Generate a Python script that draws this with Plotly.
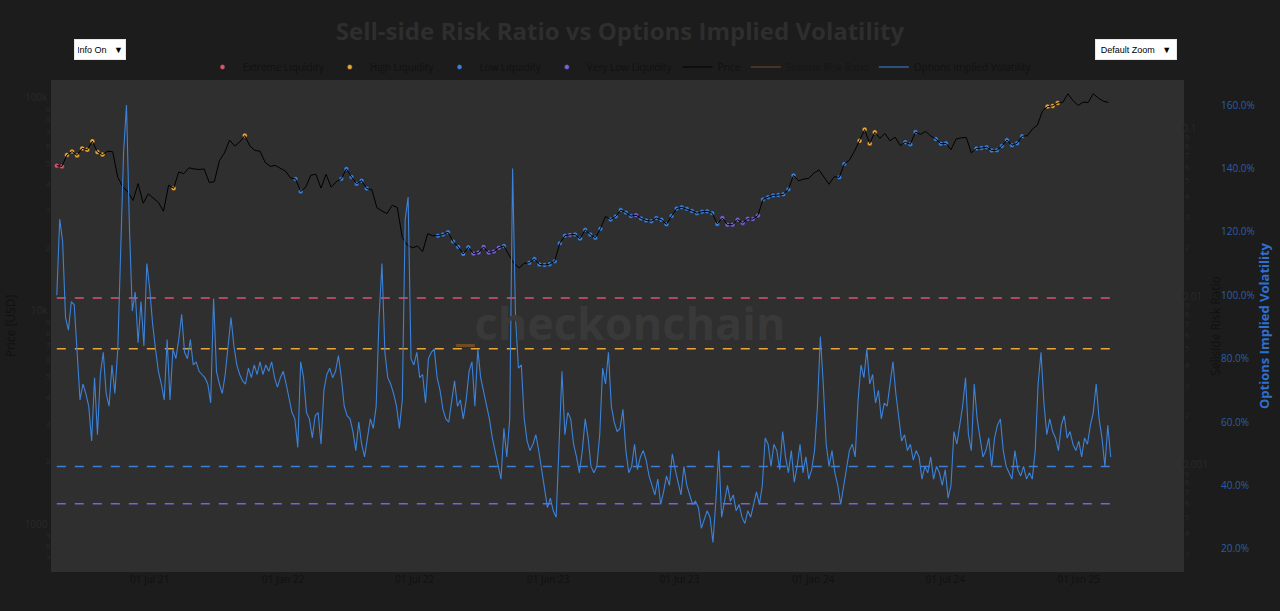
import pandas as pd
import plotly.graph_objects as go

# ---------------- data ----------------
title_text = "Sell-side Risk Ratio vs Options Implied Volatility"

price_start = "2021-02-23"   # weekly closes
price_usd = [
    # 2021
    48800, 48400, 54800, 56800, 54500, 58800, 57900, 63500, 56500, 55000,
    57000, 56700, 43000, 38800, 36700, 33500, 40200, 32500, 36000, 34200,
    32800, 29800, 39500, 38200, 45600, 44700, 47700, 47100, 46800, 47100,
    40700, 41000, 51500, 56000, 64300, 60300, 63000, 67500, 60300, 57500,
    57000, 50600, 48400, 48900, 47600,
    # 2022
    46000, 42700, 42300, 36900, 38700, 44000, 44500, 38300, 44400, 38700,
    41000, 42400, 47100, 43200, 40100, 41500, 38100, 37700, 31000, 29900,
    29100, 31800, 31100, 22500, 20700, 20100, 20500, 19300, 23400, 22900,
    22900, 23200, 23800, 21500, 20300, 18800, 20200, 18900, 19100, 20300,
    19100, 19300, 20100, 20500, 18500, 16900, 16200, 17000, 17100, 17800,
    16800, 16700,
    # 2023
    16850, 17400, 21100, 22900, 23100, 23200, 22200, 24400, 23200, 22400,
    24700, 28200, 27300, 28200, 30200, 29400, 28300, 28600, 27600, 27000,
    26800, 27700, 27200, 25900, 28300, 30700, 31100, 30600, 29900, 29200,
    29700, 29800, 29200, 26000, 27700, 25800, 25800, 27200, 26300, 27500,
    27400, 28500, 33900, 34700, 35400, 35500, 35800, 37800, 43900, 41400,
    42200, 42500,
    # 2024
    45000, 46600, 43100, 39900, 43300, 43000, 49700, 51800, 57000, 63800,
    72000, 62000, 70000, 65600, 69100, 63800, 66400, 60600, 62900, 61500,
    70100, 68400, 70600, 67300, 65100, 61800, 62100, 58000, 65000, 65900,
    66200, 56000, 58700, 59000, 59500, 57500, 57600, 60300, 64300, 60800,
    62100, 67000, 67400, 72300, 75600, 88000, 92300, 93000, 96000, 96600,
    106000, 98700, 93400,
    # 2025
    96900, 96500, 106100, 101300, 97800, 96600,
]

srr_values = [   # weekly sell-side risk ratio (same dates as price)
    0.013, 0.011,
    0.007, 0.0065, 0.006, 0.0072, 0.0068, 0.0055, 0.0062, 0.0058,
    0.0042, 0.0038, 0.0045, 0.0035, 0.0031, 0.0028, 0.0033, 0.0027, 0.0024, 0.0026, 0.0022, 0.0025, 0.0032,
    0.0052,
    0.0041, 0.0036, 0.0039, 0.0034, 0.003, 0.0028, 0.0033, 0.0037, 0.0042, 0.0039, 0.0044, 0.0046, 0.0048,
    0.0053,
    0.0041, 0.0035, 0.0029, 0.0024, 0.0021, 0.0019, 0.0017, 0.0015, 0.0013,
    0.0009, 0.00085,
    0.0012, 0.0016, 0.0019, 0.0014, 0.0013, 0.0012, 0.0011,
    0.00095, 0.0009, 0.00088, 0.00092, 0.00085, 0.0009,
    0.0012, 0.0014, 0.0017, 0.0022, 0.0025, 0.0021, 0.0018, 0.0016, 0.0015, 0.0013, 0.0012, 0.0011, 0.00105,
    0.00092, 0.00085, 0.0008, 0.00075, 0.0007, 0.00068, 0.00065,
    0.00058, 0.00055, 0.00052, 0.00056, 0.00054, 0.00057, 0.00062,
    0.0014, 0.0018, 0.0016, 0.0011,
    0.0009, 0.00082, 0.00078, 0.0008, 0.00085, 0.00092,
    0.00088, 0.00075, 0.00058, 0.0007, 0.00082, 0.00086, 0.00079, 0.00084, 0.00095,
    0.0011,
    0.00092, 0.00085, 0.0008, 0.00072, 0.00066, 0.00059, 0.00063, 0.00071, 0.00078, 0.00084, 0.00089, 0.00093, 0.00087,
    0.00082, 0.00076, 0.0007, 0.00068, 0.00064, 0.00067, 0.00072, 0.00069, 0.00062,
    0.00055, 0.00051, 0.00048, 0.00046, 0.0005, 0.00053, 0.00049, 0.00057,
    0.00072, 0.00081, 0.00086, 0.0009, 0.00094, 0.00088, 0.00097,
    0.0013, 0.0016, 0.0019, 0.0022, 0.0018, 0.0015, 0.0014, 0.0012,
    0.00095, 0.0009,
    0.0021, 0.0034,
    0.0056, 0.0064, 0.0058, 0.0052,
    0.0041, 0.0032, 0.0026, 0.0019, 0.0014,
    0.00092, 0.00088, 0.00096,
    0.0012, 0.0013, 0.0011,
    0.00094, 0.00087, 0.00091,
    0.0013, 0.0017, 0.0015, 0.0012, 0.0011,
    0.00093, 0.00086, 0.0008, 0.00074, 0.00071, 0.00078, 0.00083, 0.00089, 0.00092, 0.00097,
    0.0014, 0.0021, 0.0032, 0.0045,
    0.0055, 0.0061, 0.0052,
    0.0042, 0.0038, 0.0033, 0.0029, 0.0031, 0.0035, 0.0028, 0.0024, 0.0021, 0.0019,
]

iv_start = "2021-02-23"   # every 4 days, percent
iv_pct = [
    100, 124, 117, 93, 89, 98, 97, 83, 67, 72,
    69, 65, 54, 74, 56, 75, 82, 69, 65, 78,
    69, 83, 112, 145, 160, 122, 95, 101, 85, 98,
    84, 110, 102, 91, 83, 76, 72, 67, 86, 67,
    83, 80, 86, 94, 82, 80, 86, 78, 79, 76,
    75, 74, 72, 66, 99, 76, 72, 69, 75, 84,
    93, 84, 78, 75, 73, 72, 77, 74, 78, 75,
    79, 75, 78, 76, 79, 74, 71,
    74, 76, 72, 67, 63, 61, 52, 79, 74, 63,
    61, 55, 62, 63, 53, 70, 75, 77, 74, 76,
    81, 74, 65, 62, 61, 57, 51, 60, 53, 49,
    55, 61, 58, 65, 93, 110, 82, 74, 72, 69,
    65, 58, 67, 124, 131, 80, 78, 82, 74, 75,
    66, 80, 82, 83, 74, 70, 64, 61, 60, 67,
    73, 65, 67, 61, 67, 76, 79, 65, 83, 74,
    70, 65, 61, 55, 51, 46, 42, 58, 49, 61,
    140, 93, 77, 78, 61, 54, 51, 53, 56, 51,
    45, 38, 33, 36, 32, 30, 51, 76, 56, 63,
    61, 53, 49, 44, 51, 61, 55, 46, 44, 46,
    56, 77, 72, 82, 65, 60, 57, 58, 64, 51,
    44, 46, 53, 45, 49, 51, 48, 43, 40, 37,
    42, 34, 38, 43, 40, 50, 45, 41, 37, 46,
    40, 37, 34, 35, 33, 26.5, 29, 32, 30, 22,
    35, 51, 30, 35, 40, 35, 37, 32, 34, 30,
    28, 32, 30, 34, 38, 34, 40, 55, 53, 46,
    53, 51, 45, 57, 49, 44, 51, 41, 46, 53,
    44, 49, 42, 45, 51, 65, 87, 72, 53, 46,
    51, 44, 40, 34, 40, 45, 51, 53, 49, 67,
    78, 74, 83, 72, 75, 66, 70, 61, 66, 65,
    72, 79, 69, 61, 54, 56, 51, 53, 48, 51,
    49, 42, 46, 44, 49, 42, 46, 44, 40, 45,
    36, 40, 57, 53, 59, 65, 74, 56, 51, 72,
    61, 55, 49, 51, 55, 46, 55, 59, 61, 51,
    46, 44, 42, 51, 45, 43, 46, 42, 44, 42,
    51, 72, 82, 66, 56, 61, 57, 55, 51, 59,
    62, 55, 57, 53, 51, 54, 49, 55, 53, 59,
    63, 72, 61, 55, 46, 59, 49,
]

regime_names = ["Extreme Liquidity", "High Liquidity", "Low Liquidity", "Very Low Liquidity"]
regime_colors = ["#d9556f", "#e8a53a", "#3d7fd6", "#7a63d6"]
regime_low = [0.01, 0.005, 0.0006, 0.0]
regime_high = [10.0, 0.01, 0.001, 0.0006]
threshold_levels = [0.01, 0.005, 0.001, 0.0006]

menu_labels = ["Info On &nbsp;&nbsp;▼", "Default Zoom &nbsp;&nbsp;▼"]

x_range = ["2021-02-15", "2025-05-26"]

# ---------------- build ----------------
n = min(len(price_usd), len(srr_values))
price_dates = pd.date_range(price_start, periods=len(price_usd), freq="7D")
iv_dates = pd.date_range(iv_start, periods=len(iv_pct), freq="4D")
iv_frac = [v / 100.0 for v in iv_pct]

PAPER = "#1c1c1c"
PLOT = "#2f2f2f"
TXT = "#111111"
FONT = "Open Sans"

fig = go.Figure()

for name, col, lo, hi in zip(regime_names, regime_colors, regime_low, regime_high):
    xs = [price_dates[i] for i in range(n) if lo <= srr_values[i] < hi]
    ys = [price_usd[i] for i in range(n) if lo <= srr_values[i] < hi]
    fig.add_trace(go.Scatter(x=xs, y=ys, mode="markers", name=name,
                             marker=dict(color=col, size=5, line=dict(width=0.5, color="#1a1a1a")),
                             yaxis="y"))

fig.add_trace(go.Scatter(x=price_dates, y=price_usd, mode="lines", name="Price",
                         line=dict(color="#000000", width=1), yaxis="y"))

fig.add_trace(go.Scatter(x=price_dates[:n], y=srr_values[:n], mode="lines",
                         name="Sellside Risk Ratio", visible="legendonly",
                         line=dict(color="#c87f33", width=1), yaxis="y2"))

x0, x1 = price_dates[0], iv_dates[-1]
for lvl, col in zip(threshold_levels, regime_colors):
    fig.add_trace(go.Scatter(x=[x0, x1], y=[lvl, lvl], mode="lines",
                             line=dict(color=col, width=1.5, dash="dash"),
                             showlegend=False, hoverinfo="skip", yaxis="y2"))

fig.add_trace(go.Scatter(x=iv_dates, y=iv_frac, mode="lines",
                         name="Options Implied Volatility",
                         line=dict(color="#3c82d8", width=1.1), yaxis="y3"))

L, R, T, B = 51, 10, 80, 39
W, H = 1280, 611
pw = W - L - R
ph = H - T - B
dom_end = (1184 - L) / pw
cx = (620 - L) / pw

annotations = [
    dict(text="<b><span style='color:#6e4d22'>_</span>checkonchain</b>",
         x=cx, y=(572 - 322) / ph, xref="paper", yref="paper",
         xanchor="center", yanchor="middle", showarrow=False,
         font=dict(size=45, color="#393939", family=FONT)),
    dict(text=menu_labels[0], x=(74 - L) / pw, y=1 + 41 / ph, xref="paper", yref="paper",
         xanchor="left", yanchor="top", showarrow=False, width=44, height=13, align="center",
         bgcolor="#ffffff", bordercolor="#e8e8e8", borderwidth=1, borderpad=3,
         font=dict(size=9, color="#000000", family="Arial")),
    dict(text=menu_labels[1], x=(1177 - L) / pw, y=1 + 41 / ph, xref="paper", yref="paper",
         xanchor="right", yanchor="top", showarrow=False, width=74, height=13, align="center",
         bgcolor="#ffffff", bordercolor="#e8e8e8", borderwidth=1, borderpad=3,
         font=dict(size=9, color="#000000", family="Arial")),
]

fig.update_layout(
    width=W, height=H,
    margin=dict(l=L, r=R, t=T, b=B),
    paper_bgcolor=PAPER, plot_bgcolor=PLOT,
    font=dict(family=FONT, color=TXT, size=10),
    title=dict(text="<b>" + title_text + "</b>", x=cx, xanchor="center",
               y=1 - 32 / H, yanchor="middle", xref="paper",
               font=dict(size=24, color="#2e2e2e", family=FONT)),
    showlegend=True,
    legend=dict(orientation="h", x=cx, xanchor="center", y=1 + 13 / ph, yanchor="middle",
                font=dict(size=10, color=TXT), bgcolor="rgba(0,0,0,0)"),
    xaxis=dict(domain=[0, dom_end], type="date", range=x_range,
               tickformat="%d %b %y", dtick="M6", tick0="2021-01-01",
               showgrid=False, zeroline=False, showline=False,
               tickfont=dict(size=10, color=TXT)),
    yaxis=dict(type="log", range=[2.783, 5.09], dtick="D1",
               title=dict(text="Price [USD]", font=dict(size=12, color=TXT), standoff=6),
               showgrid=False, zeroline=False, tickfont=dict(size=10, color="#2a2a2a")),
    yaxis2=dict(type="log", range=[-3.627, -0.705], dtick="D1", overlaying="y",
                side="right", anchor="x",
                title=dict(text="Sellside Risk Ratio", font=dict(size=12, color=TXT), standoff=4),
                showgrid=False, zeroline=False, tickfont=dict(size=10, color="#2a2a2a")),
    yaxis3=dict(range=[0.127, 1.679], tickformat=".1%", dtick=0.2, tick0=0.2,
                overlaying="y", side="right", anchor="free", position=(1220 - L) / pw,
                title=dict(text="<b>Options Implied Volatility</b>",
                           font=dict(size=13, color="#2f6fd0"), standoff=6),
                showgrid=False, zeroline=False, tickfont=dict(size=10, color="#2a5ca8")),
    annotations=annotations,
)

fig.write_html("out.html")
